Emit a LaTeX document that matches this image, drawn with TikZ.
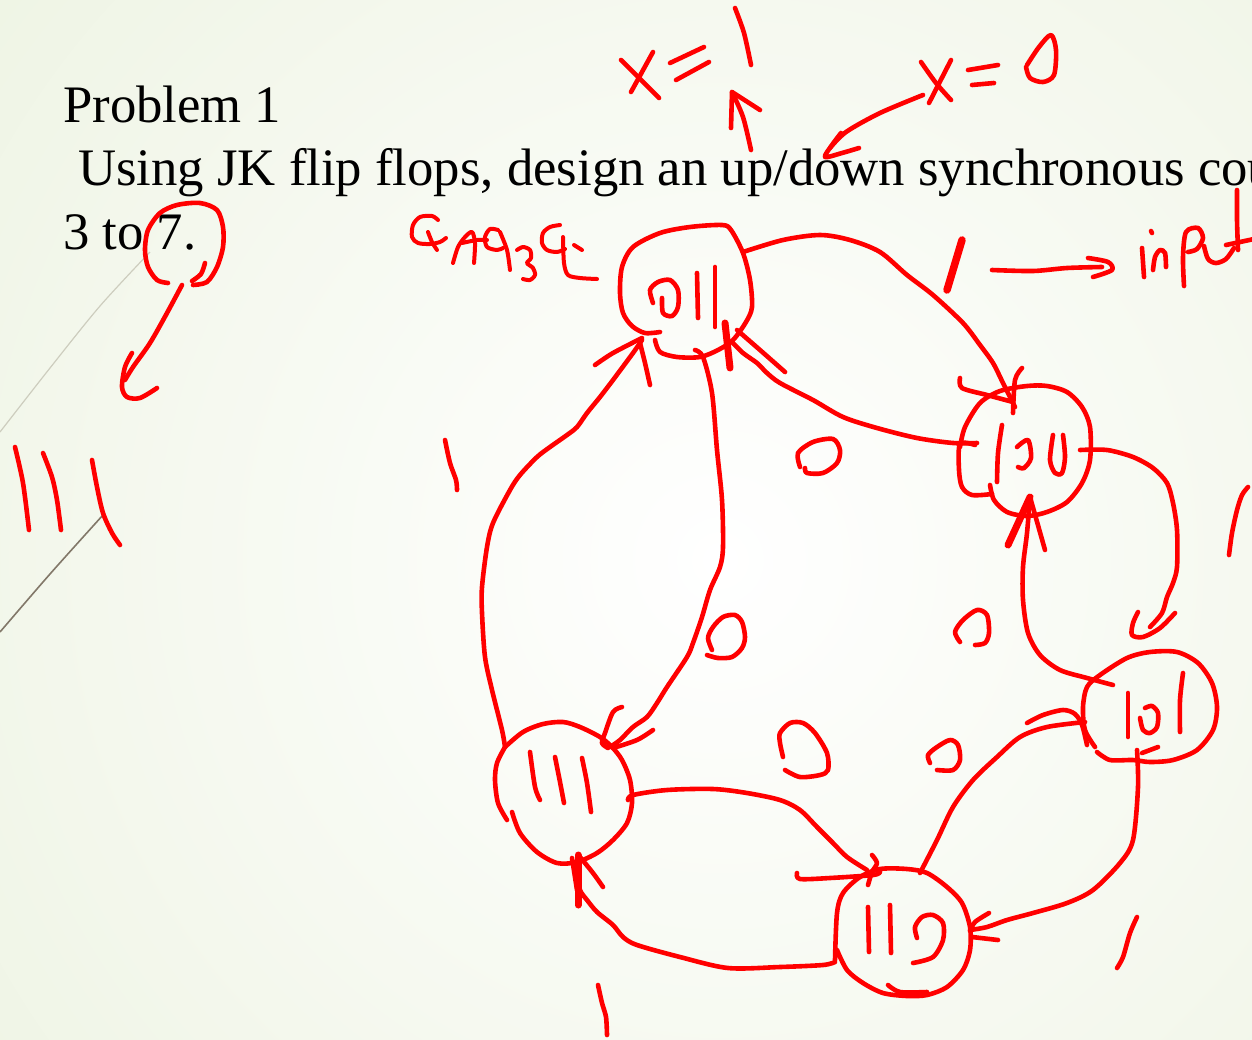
\documentclass[tikz,border=0pt]{standalone}
\usepackage{fontspec}
\setmainfont{Liberation Serif}
\definecolor{pen}{RGB}{255,0,0}
\definecolor{slidebg}{RGB}{226,236,208}
\definecolor{arcfaint}{RGB}{205,205,190}
\definecolor{arcdark}{RGB}{130,120,105}
\begin{document}
\begin{tikzpicture}[x=1pt,y=-1pt,
  ink/.style={draw=pen,line width=4.6pt,line cap=round,line join=round},
  thin ink/.style={ink,line width=4pt},
  heavy/.style={ink,line width=7pt},
  slide/.style={font=\fontsize{52.7}{63}\selectfont,inner sep=0pt,anchor=base west,text=black}]
\useasboundingbox (0,0) rectangle (1252,1039);
\clip (0,0) rectangle (1252,1039);
% slide background
\fill[slidebg] (0,0) rectangle (1252,1039);
\shade[inner color=white,outer color=slidebg] (720,560) circle (1650);
% decorative arcs of the slide theme
\draw[arcfaint,line width=1.2pt] plot[smooth] coordinates {(0,432) (50,368) (100,306) (150,252)};
\draw[arcdark,line width=1.6pt] plot[smooth] coordinates {(0,632) (50,574) (103,515)};
% slide text
\node[slide] (p1) at (63,122) {Problem 1};
\node[slide] (p2) at (78,185) {Using JK flip flops, design an up/down synchronous cou};
\node[slide] (p3) at (63,249) {3 to 7.};

% ---- state positions
\coordinate (s011) at (686,291);
\coordinate (s100) at (1025,450);
\coordinate (s101) at (1150,707);
\coordinate (s110) at (903,932);
\coordinate (s111) at (563,792);

% ---- x=1 with arrow
\draw[ink] (621,60) -- (659,98);
\draw[ink] (653,52) -- (631,92);
\draw[ink] (670,63) -- (704,47);
\draw[ink] (676,80) -- (709,62);
\draw[ink] plot[smooth] coordinates {(735,8) (744,33) (751,65)};
\draw[ink] plot[smooth] coordinates {(751,150) (743,117) (732,92)};
\draw[ink] (731,128) -- (732,92) -- (760,110);

% ---- x=0 with arrow
\draw[ink] plot[smooth] coordinates {(921,62) (936,83) (951,100)};
\draw[ink] (951,60) -- (929,103);
\draw[ink] (968,70) -- (998,65);
\draw[ink] (972,85) -- (994,83);
\draw[ink] plot[smooth] coordinates {(1026,67) (1030,78) (1043,82) (1054,75) (1056,50) (1051,35) (1039,47) (1027,65)};
\draw[ink] plot[smooth] coordinates {(923,95) (880,113) (846,132) (830,148)};
\draw[ink] plot[smooth] coordinates {(841,133) (832,145) (825,157) (842,153) (859,148)};

% ---- "1 -> input"
\draw[heavy,line width=7.5pt] (962,240) -- (947,290);
\draw[ink] plot[smooth] coordinates {(992,270) (1033,271) (1067,268) (1102,267)};
\draw[ink] plot[smooth] coordinates {(1088,258) (1108,262) (1112,270) (1093,277)};
\draw[ink] (1142,248) -- (1144,277);
\draw[ink] (1151,231) -- (1152,233);
\draw[ink] plot[smooth] coordinates {(1153,270) (1155,257) (1160,250) (1165,253) (1166,267)};
\draw[ink] plot[smooth] coordinates {(1184,286) (1183,257) (1186,232) (1198,228) (1203,238) (1197,249) (1188,252)};
\draw[ink] plot[smooth] coordinates {(1204,246) (1208,259) (1216,263) (1226,259) (1234,248)};
\draw[ink] plot[smooth] coordinates {(1237,190) (1237,220) (1238,250)};
\draw[ink] plot[smooth] coordinates {(1226,245) (1240,242) (1254,239)};

% ---- scribbled word
\draw[thin ink] plot[smooth] coordinates {(438,220) (432,216) (420,217) (413,225) (412,237) (418,243) (430,244) (440,242) (446,238)};
\draw[thin ink] plot[smooth] coordinates {(428,232) (432,242) (437,250)};
\draw[thin ink] plot[smooth] coordinates {(453,263) (458,247) (465,237) (472,232) (475,243) (474,263)};
\draw[thin ink] plot[smooth] coordinates {(462,243) (477,240) (487,240)};
\draw[thin ink] plot[smooth] coordinates {(498,230) (490,229) (485,237) (487,247) (497,250) (503,248)};
\draw[thin ink] plot[smooth] coordinates {(500,232) (507,250) (510,270)};
\draw[thin ink] plot[smooth] coordinates {(517,250) (523,247) (530,250) (531,258) (527,263) (533,268) (535,275) (530,280) (523,279)};
\draw[thin ink] plot[smooth] coordinates {(560,225) (550,227) (543,233) (542,243) (547,250) (557,252) (565,249)};
\draw[thin ink] plot[smooth] coordinates {(563,237) (564,263) (568,275) (580,278) (597,279)};
\draw[thin ink] (574,245) -- (582,250);

% ---- circled 7 and arrow
\draw[ink] plot[smooth] coordinates {(168,283) (157,280) (148,267) (145,250) (148,230) (160,213) (177,205) (200,203) (217,210) (223,227) (223,247) (217,267) (207,282) (193,285)};
\draw[ink] plot[smooth] coordinates {(205,263) (201,274) (192,281)};
\draw[ink] plot[smooth] coordinates {(182,285) (167,313) (150,343) (133,367) (125,380)};
\draw[ink] plot[smooth] coordinates {(132,353) (125,367) (122,387) (127,397) (140,398) (157,388)};

% ---- 111 at left
\draw[ink] plot[smooth] coordinates {(15,447) (23,483) (29,530)};
\draw[ink] plot[smooth] coordinates {(43,453) (52,477) (57,500) (61,530)};
\draw[ink] plot[smooth] coordinates {(92,460) (97,487) (103,513) (112,533) (120,545)};

% ---- state 011
\draw[ink] plot[smooth] coordinates {(660,332) (645,333) (632,326) (623,313) (620,293) (622,267) (633,247) (660,233) (690,227) (722,225) (731,230) (743,253) (750,280) (752,307) (746,322) (733,340) (718,350) (700,357) (677,357) (660,352) (655,340)};
\draw[ink] plot[smooth] coordinates {(653,303) (650,290) (658,282) (670,280) (678,290) (678,307) (672,316) (663,313) (662,298)};
\draw[ink] (697,273) -- (698,318);
\draw[ink] (715,267) -- (715,327);

% ---- state 100
\draw[ink] plot[smooth] coordinates {(975,445) (960,444) (959,470) (962,487) (972,495) (992,494)};
\draw[ink] plot[smooth] coordinates {(990,485) (994,500) (1007,512) (1027,516) (1047,512) (1067,502) (1082,483) (1090,460) (1090,427) (1082,407) (1067,392) (1047,386) (1027,386) (1000,391) (980,403) (965,427) (960,447)};
\draw[ink] plot[smooth] coordinates {(1002,425) (998,453) (997,482)};
\draw[ink] plot[smooth] coordinates {(1017,447) (1028,440) (1031,458) (1024,468) (1018,467)};
\draw[ink] plot[smooth] coordinates {(1053,435) (1050,460) (1055,473) (1062,473) (1065,457) (1063,435)};

% ---- state 101
\draw[ink] plot[smooth] coordinates {(1095,747) (1085,730) (1083,707) (1087,687) (1100,675) (1127,658) (1150,652) (1177,652) (1198,663) (1212,683) (1217,707) (1213,730) (1197,750) (1173,760) (1150,762) (1133,760) (1110,760) (1097,752)};
\draw[ink] (1128,693) -- (1128,737);
\draw[ink] plot[smooth] coordinates {(1140,718) (1143,730) (1150,733) (1157,727) (1158,713) (1152,706) (1145,708)};
\draw[ink] plot[smooth] coordinates {(1183,673) (1180,700) (1180,732)};

% ---- state 110
\draw[ink] plot[smooth] coordinates {(835,960) (837,913) (843,893) (860,877) (880,869) (907,869) (927,873) (947,887) (962,903) (970,927) (970,950) (963,970) (947,987) (927,995) (907,996) (883,993) (863,983) (847,970) (837,950)};
\draw[ink] plot[smooth] coordinates {(888,985) (900,992) (927,992)};
\draw[ink] (868,907) -- (869,952);
\draw[ink] (890,905) -- (891,953);
\draw[ink] plot[smooth] coordinates {(917,938) (915,927) (922,917) (933,915) (943,923) (943,940) (933,957) (913,963)};

% ---- state 111
\draw[ink] plot[smooth] coordinates {(505,747) (497,763) (495,780) (498,803) (507,820)};
\draw[ink] plot[smooth] coordinates {(512,812) (520,833) (537,852) (557,863) (577,862) (597,853) (613,840) (627,823) (632,803) (630,780) (622,760) (612,747) (600,737) (580,727) (563,722) (543,724) (523,732) (505,747)};
\draw[ink] plot[smooth] coordinates {(530,752) (535,787) (540,800)};
\draw[ink] plot[smooth] coordinates {(555,757) (560,782) (564,803)};
\draw[ink] plot[smooth] coordinates {(582,758) (587,783) (591,812)};

% ---- transitions
% 011 -> 100
\draw[ink] plot[smooth] coordinates {(743,252) (783,240) (820,235) (850,240) (880,252) (907,275) (933,295) (963,323) (980,345) (993,363) (1003,383) (1015,407)};
\draw[ink] plot[smooth] coordinates {(960,378) (962,388) (987,395) (1013,402)};
\draw[ink] plot[smooth] coordinates {(1022,368) (1015,380) (1013,413)};
% 100 -> 011
\draw[ink] plot[smooth] coordinates {(977,443) (953,443) (917,438) (877,428) (843,417) (813,400) (780,383) (767,373) (757,363) (743,353) (733,343)};
\draw[heavy] (725,323) -- (730,368);
\draw[ink] plot[smooth] coordinates {(737,330) (760,350) (785,372)};
% 111 -> 011
\draw[ink] plot[smooth] coordinates {(505,747) (502,730) (492,690) (485,657) (482,613) (482,587) (487,547) (493,523) (510,490) (520,475) (537,457) (550,447) (567,435) (577,427) (587,413) (600,397) (613,380) (633,353) (642,340)};
\draw[ink] plot[smooth] coordinates {(595,365) (613,353) (642,338)};
\draw[ink] plot[smooth] coordinates {(650,385) (645,363) (640,343)};
% 011 -> 111
\draw[ink] plot[smooth] coordinates {(695,350) (703,357) (712,393) (717,450) (722,500) (723,547) (720,567) (710,590) (702,617) (693,643) (687,657) (667,687) (657,703) (647,717) (633,727) (620,740) (610,747)};
\draw[ink] plot[smooth] coordinates {(622,707) (613,712) (605,733) (602,743) (608,748)};
\draw[ink] plot[smooth] coordinates {(653,730) (637,740) (613,748)};
% 111 -> 110
\draw[ink] plot[smooth] coordinates {(628,800) (633,795) (667,790) (713,789) (747,793) (780,800) (800,810) (817,827) (833,843) (847,857) (867,870)};
\draw[ink] plot[smooth] coordinates {(797,873) (800,879) (830,878) (873,875) (880,872)};
\draw[ink] plot[smooth] coordinates {(872,855) (877,863) (872,872) (868,885)};
% 110 -> 111
\draw[ink] plot[smooth] coordinates {(835,962) (823,965) (780,967) (728,968) (680,957) (637,945) (623,937) (613,925) (597,912) (587,900) (580,890) (577,873) (578,857)};
\draw[heavy] (578,855) -- (578,905);
\draw[ink] (572,858) -- (577,890);
\draw[ink] plot[smooth] coordinates {(580,857) (593,873) (603,887)};
% 110 -> 101
\draw[ink] plot[smooth] coordinates {(920,873) (937,840) (953,807) (973,780) (997,757) (1020,737) (1047,727) (1085,722)};
\draw[ink] plot[smooth] coordinates {(1027,723) (1043,715) (1063,710) (1075,714) (1082,725) (1087,745)};
% 101 -> 110
\draw[ink] plot[smooth] coordinates {(1137,750) (1138,787) (1133,840) (1120,863) (1093,890) (1067,903) (1033,913) (1007,920) (987,927) (970,930)};
\draw[ink] plot[smooth] coordinates {(989,913) (975,922) (970,931)};
\draw[ink] (972,937) -- (998,940);
\draw[ink] (1142,753) -- (1158,747);
% 101 -> 100
\draw[ink] plot[smooth] coordinates {(1113,685) (1087,678) (1060,670) (1040,655) (1028,633) (1023,600) (1023,567) (1027,533) (1030,497)};
\draw[heavy] (1008,545) -- (1030,497);
\draw[ink] (1030,497) -- (1045,550);
% 100 -> 101
\draw[ink] plot[smooth] coordinates {(1080,450) (1107,450) (1133,457) (1153,468) (1167,483) (1173,503) (1177,530) (1177,567) (1173,583) (1167,597) (1162,613) (1150,627)};
\draw[ink] plot[smooth] coordinates {(1138,612) (1133,623) (1132,635) (1143,637) (1160,628) (1175,613)};

% ---- input labels on the edges
\draw[ink] plot[smooth] coordinates {(445,440) (450,463) (456,480) (457,490)};
\draw[ink] plot[smooth] coordinates {(800,467) (798,453) (813,442) (833,439) (840,450) (837,463) (823,473) (807,473) (805,468)};
\draw[ink] plot[smooth] coordinates {(712,650) (708,638) (713,627) (723,617) (735,615) (742,622) (745,637) (742,648) (732,657) (718,658) (707,655)};
\draw[ink] plot[smooth] coordinates {(960,642) (955,632) (963,620) (977,610) (987,615) (989,633) (985,643) (975,645)};
\draw[ink] plot[smooth] coordinates {(783,757) (780,743) (780,733) (790,723) (803,723) (815,733) (827,753) (828,770) (820,775) (800,777) (785,770)};
\draw[ink] plot[smooth] coordinates {(930,763) (928,755) (937,747) (950,740) (958,745) (960,760) (953,770) (937,770)};
\draw[ink] plot[smooth] coordinates {(1248,487) (1242,495) (1237,510) (1232,533) (1229,555)};
\draw[ink] plot[smooth] coordinates {(1137,917) (1130,933) (1123,957) (1117,968)};
\draw[ink] plot[smooth] coordinates {(598,985) (602,1003) (606,1017) (607,1035)};
\end{tikzpicture}
\end{document}
